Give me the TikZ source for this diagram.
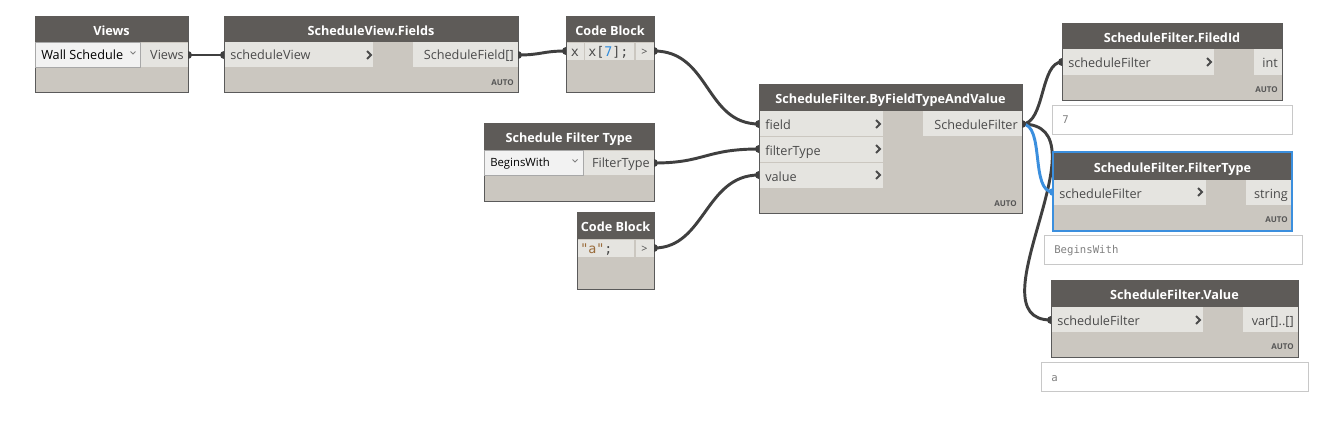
\documentclass[tikz,border=0pt]{standalone}
\usepackage{fontspec}
\setmainfont{Open Sans}
\newfontfamily\monof{DejaVu Sans Mono}
\usetikzlibrary{fit}
\definecolor{hdr}{HTML}{5E5B58}
\definecolor{bodyc}{HTML}{CBC7C0}
\definecolor{cellc}{HTML}{E5E4E0}
\definecolor{dropc}{HTML}{F2F2F2}
\definecolor{dropb}{HTML}{A8A8A8}
\definecolor{bordc}{HTML}{5A5A5A}
\definecolor{preb}{HTML}{C8C8C8}
\definecolor{wirec}{HTML}{3F3F3F}
\definecolor{selblue}{HTML}{3B8FDE}
\definecolor{lblc}{HTML}{4A4A4A}
\definecolor{autoc}{HTML}{555555}
\definecolor{numblue}{HTML}{2F8BDC}
\definecolor{strbrown}{HTML}{9A6B3A}
\tikzset{
 nbody/.style={fill=bodyc, draw=bordc, line width=0.75pt, inner sep=0pt},
 nsel/.style={fill=bodyc, draw=selblue, line width=1.5pt, inner sep=0pt},
 nhead/.style={fill=hdr, inner sep=0pt},
 ncell/.style={fill=cellc, inner sep=0pt},
 ndrop/.style={fill=dropc, draw=dropb, line width=0.75pt, inner sep=0pt},
 npre/.style={fill=white, draw=preb, line width=0.75pt, inner sep=0pt},
 ttl/.style={text=white, font=\bfseries\fontsize{9.5}{11}\selectfont, inner sep=0pt, anchor=base},
 lbl/.style={text=lblc, font=\fontsize{9.5}{11}\selectfont, inner sep=0pt},
 autot/.style={text=autoc, font=\bfseries\fontsize{6}{7}\selectfont, anchor=base east, inner sep=0pt},
 codet/.style={font=\monof\fontsize{10}{12}\selectfont, inner sep=0pt, text=lblc},
 ptext/.style={font=\monof\fontsize{8}{10}\selectfont, text=gray, anchor=base west, inner sep=0pt},
 wire/.style={draw=wirec, line width=2.2pt},
 selwire/.style={draw=selblue, line width=2.2pt},
 chev/.style={draw=lblc, line width=1.5pt},
 ddchev/.style={draw=gray, line width=0.6pt},
}
\newcommand\dbox[6]{\node[#6, fit={(#2,#3)(#4,#5)}] (#1) {};}
\newcommand\outmark[1]{\fill[wirec] (#1) ++(0,-4) arc[start angle=-90,end angle=90,radius=4] -- cycle;}
\newcommand\inmark[1]{\fill[wirec] (#1) ++(0,-4) arc[start angle=-90,end angle=-270,radius=4] -- cycle;}
\newcommand\pchev[2]{\draw[chev] (#1-3,#2-4) -- (#1+1,#2) -- (#1-3,#2+4);}
\begin{document}
\begin{tikzpicture}[x=0.75pt,y=-0.75pt]
\useasboundingbox[fill=white] (0,0) rectangle (1334,422);

% ---------- ports
\coordinate (viewsOut) at (188,55);
\coordinate (svIn) at (224,55);
\coordinate (svOut) at (518,55);
\coordinate (cbaIn) at (566,51);
\coordinate (cbaOut) at (654,51);
\coordinate (sftOut) at (654,163);
\coordinate (cbbOut) at (654,248);
\coordinate (bfField) at (759,124);
\coordinate (bfFt) at (759,149);
\coordinate (bfVal) at (759,175);
\coordinate (bfOut) at (1022,124);
\coordinate (fiIn) at (1062,62);
\coordinate (ftIn) at (1053,192);
\coordinate (vaIn) at (1051,320);

% ---------- wires (behind the nodes)
\draw[wire] (viewsOut) -- (svIn);
\draw[wire] (svOut) .. controls ++(24,0) and ++(-24,0) .. (cbaIn);
\draw[wire] (cbaOut) .. controls ++(56,0) and ++(-54,0) .. (bfField);
\draw[wire] (sftOut) .. controls ++(51,0) and ++(-54,0) .. (bfFt);
\draw[wire] (cbbOut) .. controls ++(51,0) and ++(-54,0) .. (bfVal);
\draw[wire] (bfOut) .. controls ++(23,0) and ++(-22,0) .. (fiIn);
\draw[wire] (bfOut) .. controls ++(88,0) and ++(-81,0) .. (vaIn);
\draw[selwire] (bfOut) .. controls ++(23,0) and ++(-23,0) .. (ftIn);

% ---------- Views
\dbox{viewsB}{35}{16}{188}{92}{nbody}
\dbox{viewsH}{35}{16}{188}{42}{nhead}
\node[ttl] (viewsT) at (111.5,35) {Views};
\dbox{viewsD}{35}{42}{140}{67}{ndrop}
\node[lbl, anchor=base west, text=black] (viewsDT) at (41,59) {Wall Schedule};
\draw[ddchev] (130.5,51.5) -- (133,54) -- (135.5,51.5);
\dbox{viewsC}{140.5}{42.5}{187.5}{67}{ncell}
\node[lbl, anchor=base east] (viewsCT) at (184,59) {Views};

% ---------- ScheduleView.Fields
\dbox{svB}{224}{16}{518}{92}{nbody}
\dbox{svH}{224}{16}{518}{42}{nhead}
\node[ttl] (svT) at (371,35) {ScheduleView.Fields};
\dbox{svI}{224.5}{42}{373}{67}{ncell}
\node[lbl, anchor=base west] (svIT) at (230,59) {scheduleView};
\pchev{370}{55}
\dbox{svO}{413}{42}{517.5}{67}{ncell}
\node[lbl, anchor=base east] (svOT) at (514,59) {ScheduleField[]};
\node[autot] (svA) at (514,85) {AUTO};

% ---------- Code Block 1
\dbox{cbaB}{566}{16}{654}{92}{nbody}
\dbox{cbaH}{566}{16}{654}{42}{nhead}
\node[ttl] (cbaT) at (610,35) {Code Block};
\dbox{cbaX}{566.5}{42.5}{583.5}{60}{ncell}
\node[codet, anchor=base] (cbaXT) at (575,56) {x};
\dbox{cbaC}{585}{42.5}{634}{60}{ncell}
\node[codet, anchor=base west] (cbaCT) at (588,56) {x[\textcolor{numblue}{7}];};
\dbox{cbaO}{635.5}{42.5}{653.5}{60}{ncell}
\node[lbl, anchor=base, font=\fontsize{8}{9}\selectfont] (cbaOT) at (644.5,55) {>};

% ---------- Schedule Filter Type
\dbox{sftB}{484}{123}{654}{201}{nbody}
\dbox{sftH}{484}{123}{654}{150}{nhead}
\node[ttl] (sftT) at (569,142) {Schedule Filter Type};
\dbox{sftD}{484}{150}{583}{175}{ndrop}
\node[lbl, anchor=base west, text=black, font=\fontsize{8.5}{10}\selectfont] (sftDT) at (490,166) {BeginsWith};
\draw[ddchev] (572.5,159.5) -- (575,162) -- (577.5,159.5);
\dbox{sftC}{583.5}{150.5}{653.5}{175}{ncell}
\node[lbl, anchor=base east] (sftCT) at (650,167) {FilterType};

% ---------- Code Block 2
\dbox{cbbB}{577}{212}{654}{289}{nbody}
\dbox{cbbH}{577}{212}{654}{239}{nhead}
\node[ttl] (cbbT) at (615.5,231) {Code Block};
\dbox{cbbC}{577.5}{239.5}{634}{257}{ncell}
\node[codet, anchor=base west] (cbbCT) at (580,253) {\textcolor{strbrown}{"a"};};
\dbox{cbbO}{635.5}{239.5}{653.5}{257}{ncell}
\node[lbl, anchor=base, font=\fontsize{8}{9}\selectfont] (cbbOT) at (644.5,252) {>};

% ---------- ScheduleFilter.ByFieldTypeAndValue
\dbox{bfB}{759}{84}{1022}{213}{nbody}
\dbox{bfH}{759}{84}{1022}{111}{nhead}
\node[ttl] (bfT) at (890.5,103) {ScheduleFilter.ByFieldTypeAndValue};
\dbox{bfI1}{759.5}{111}{883}{136}{ncell}
\node[lbl, anchor=base west] (bfI1T) at (765,129) {field};
\pchev{879}{124}
\dbox{bfI2}{759.5}{137}{883}{162}{ncell}
\node[lbl, anchor=base west] (bfI2T) at (765,155) {filterType};
\pchev{879}{149}
\dbox{bfI3}{759.5}{163}{883}{188}{ncell}
\node[lbl, anchor=base west] (bfI3T) at (765,181) {value};
\pchev{879}{175}
\dbox{bfO}{923}{111}{1021.5}{136}{ncell}
\node[lbl, anchor=base east] (bfOT) at (1018,129) {ScheduleFilter};
\node[autot] (bfA) at (1017,206) {AUTO};

% ---------- ScheduleFilter.FiledId
\dbox{fiB}{1062}{23}{1282}{100}{nbody}
\dbox{fiH}{1062}{23}{1282}{49}{nhead}
\node[ttl] (fiT) at (1172,42) {ScheduleFilter.FiledId};
\dbox{fiI}{1062.5}{49}{1214}{75}{ncell}
\node[lbl, anchor=base west] (fiIT) at (1068,67) {scheduleFilter};
\pchev{1210}{62}
\dbox{fiO}{1254}{49}{1281.5}{75}{ncell}
\node[lbl, anchor=base east] (fiOT) at (1278,67) {int};
\node[autot] (fiA) at (1278,92) {AUTO};
\dbox{fiP}{1052}{105}{1292}{134}{npre}
\node[ptext] (fiPT) at (1062,123) {7};

% ---------- ScheduleFilter.FilterType
\dbox{ftB}{1053}{152}{1292}{231}{nsel}
\dbox{ftH}{1054}{153}{1291}{180}{nhead}
\node[ttl] (ftT) at (1172.5,172) {ScheduleFilter.FilterType};
\dbox{ftI}{1054}{180}{1206}{205}{ncell}
\node[lbl, anchor=base west] (ftIT) at (1059,198) {scheduleFilter};
\pchev{1201}{192}
\dbox{ftO}{1246}{180}{1291}{205}{ncell}
\node[lbl, anchor=base east] (ftOT) at (1288,198) {string};
\node[autot] (ftA) at (1288,222) {AUTO};
\dbox{ftP}{1044}{235}{1302}{264}{npre}
\node[ptext] (ftPT) at (1054,253) {BeginsWith};

% ---------- ScheduleFilter.Value
\dbox{vaB}{1051}{280}{1298}{357}{nbody}
\dbox{vaH}{1051}{280}{1298}{307}{nhead}
\node[ttl] (vaT) at (1174.5,299) {ScheduleFilter.Value};
\dbox{vaI}{1051.5}{307}{1203}{332}{ncell}
\node[lbl, anchor=base west] (vaIT) at (1057,325) {scheduleFilter};
\pchev{1199}{320}
\dbox{vaO}{1243}{307}{1297.5}{332}{ncell}
\node[lbl, anchor=base east] (vaOT) at (1294,325) {var[]..[]};
\node[autot] (vaA) at (1294,349) {AUTO};
\dbox{vaP}{1041}{362}{1308}{391}{npre}
\node[ptext] (vaPT) at (1051,381) {a};

% ---------- port markers
\outmark{viewsOut}
\inmark{svIn}
\outmark{svOut}
\inmark{cbaIn}
\outmark{cbaOut}
\outmark{sftOut}
\outmark{cbbOut}
\inmark{bfField}
\inmark{bfFt}
\inmark{bfVal}
\outmark{bfOut}
\inmark{fiIn}
\inmark{vaIn}
\fill[selblue] (ftIn) ++(0,-4) arc[start angle=-90,end angle=-270,radius=4] -- cycle;
\end{tikzpicture}
\end{document}
